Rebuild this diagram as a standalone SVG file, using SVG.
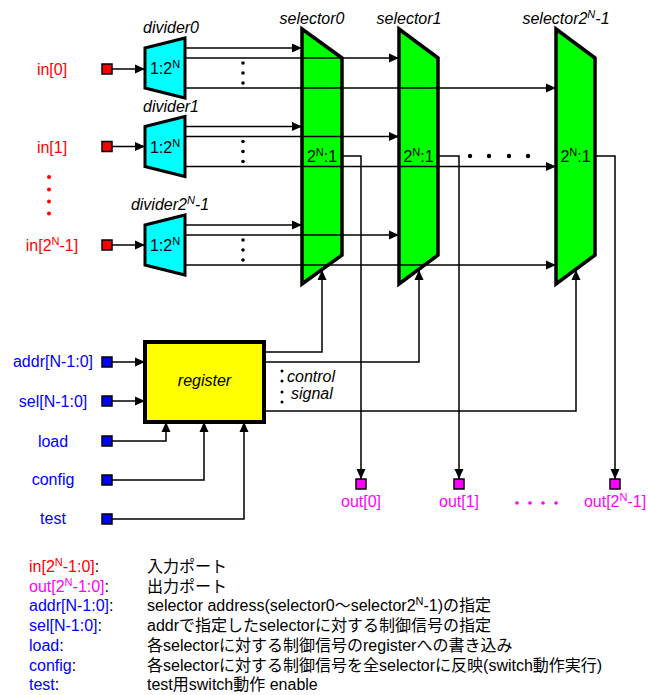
<svg xmlns="http://www.w3.org/2000/svg" width="648" height="695" viewBox="0 0 648 695">
<style>
text{font-family:"Liberation Sans",Arial,"Noto Sans CJK JP",sans-serif;font-size:16px;fill:#000}
.it{font-style:italic}
.mid{text-anchor:middle}
.red{fill:#ff0000}
.mag{fill:#ff00ff}
.blu{fill:#0000ff}
.sup{font-size:11px}
.div{fill:#00ffff;stroke:#000;stroke-width:3;stroke-linejoin:miter}
.sel{fill:#00ff00;stroke:#000;stroke-width:3.5;stroke-linejoin:miter}
.reg{fill:#ffff00;stroke:#000;stroke-width:4}
.pin{stroke:#000;stroke-width:1.5}
.w{fill:none;stroke:#000;stroke-width:1.5}
.wa{fill:none;stroke:#000;stroke-width:1.5;marker-end:url(#ah)}
</style>
<defs>
<marker id="ah" markerUnits="userSpaceOnUse" markerWidth="10" markerHeight="10" viewBox="0 0 10 10" refX="10" refY="5" orient="auto">
<path d="M0,0.5 L10,5 L0,9.5 Z" fill="#000"/>
</marker>
</defs>
<rect width="648" height="695" fill="#fff"/>

<!-- input labels -->
<g id="in0"><text class="red mid" x="52" y="75">in[0]</text><rect class="pin" x="102" y="64" width="10" height="10" fill="#ff0000"/></g>
<g id="in1"><text class="red mid" x="52" y="153">in[1]</text><rect class="pin" x="102" y="141.5" width="10" height="10" fill="#ff0000"/></g>
<g id="in-dots" fill="#ff0000"><circle cx="49" cy="177" r="2"/><circle cx="49" cy="189.5" r="2"/><circle cx="49" cy="201.5" r="2"/><circle cx="49" cy="213.5" r="2"/></g>
<g id="inN"><text class="red mid" x="52" y="251">in[2<tspan class="sup" dy="-6">N</tspan><tspan dy="6">-1]</tspan></text><rect class="pin" x="102" y="240" width="10" height="10" fill="#ff0000"/></g>

<!-- dividers -->
<g id="divider0"><text class="it mid" x="171" y="33">divider0</text><polygon class="div" points="145,48 185,38 185,98 145,88"/><text class="mid" x="165" y="74">1:2<tspan class="sup" dy="-6">N</tspan></text></g>
<g id="divider1"><text class="it mid" x="171" y="112">divider1</text><polygon class="div" points="145,126.5 185,116.5 185,176.5 145,166.5"/><text class="mid" x="165" y="152.5">1:2<tspan class="sup" dy="-6">N</tspan></text></g>
<g id="dividerN"><text class="it mid" x="170" y="210">divider2<tspan class="sup" dy="-6">N</tspan><tspan dy="6">-1</tspan></text><polygon class="div" points="145,225 185,215 185,275 145,265"/><text class="mid" x="165" y="251">1:2<tspan class="sup" dy="-6">N</tspan></text></g>

<!-- selectors -->
<g id="selector0"><text class="it mid" x="312" y="24">selector0</text><polygon class="sel" points="302,29 342,58 342,255 302,284"/><text class="mid" x="322" y="162">2<tspan class="sup" dy="-6">N</tspan><tspan dy="6">:1</tspan></text></g>
<g id="selector1"><text class="it mid" x="409" y="24">selector1</text><polygon class="sel" points="399,29 438,58 438,255 399,284"/><text class="mid" x="418.5" y="162">2<tspan class="sup" dy="-6">N</tspan><tspan dy="6">:1</tspan></text></g>
<g id="selectorN"><text class="it mid" x="566" y="24">selector2<tspan class="sup" dy="-6">N</tspan><tspan dy="6">-1</tspan></text><polygon class="sel" points="556,29 595,58 595,255 556,284"/><text class="mid" x="575.5" y="162">2<tspan class="sup" dy="-6">N</tspan><tspan dy="6">:1</tspan></text></g>
<g id="sel-dots"><circle cx="470" cy="156" r="2.2"/><circle cx="489" cy="156" r="2.2"/><circle cx="509" cy="156" r="2.2"/><circle cx="528" cy="156" r="2.2"/></g>

<!-- register -->
<g id="register"><rect class="reg" x="145" y="342" width="119" height="80"/><text class="it mid" x="204.5" y="386">register</text></g>

<!-- control inputs -->
<g id="addr"><text class="blu mid" x="53" y="367">addr[N-1:0]</text><rect class="pin" x="102" y="357" width="10" height="10" fill="#0000ff"/></g>
<g id="sel"><text class="blu mid" x="53" y="407">sel[N-1:0]</text><rect class="pin" x="102" y="396" width="10" height="10" fill="#0000ff"/></g>
<g id="load"><text class="blu mid" x="53" y="447">load</text><rect class="pin" x="102" y="436" width="10" height="10" fill="#0000ff"/></g>
<g id="config"><text class="blu mid" x="53" y="485">config</text><rect class="pin" x="102" y="475" width="10" height="10" fill="#0000ff"/></g>
<g id="test"><text class="blu mid" x="53" y="524">test</text><rect class="pin" x="102" y="514" width="10" height="10" fill="#0000ff"/></g>

<!-- outputs -->
<g id="out0"><rect class="pin" x="356" y="479" width="10" height="10" fill="#ff00ff"/><text class="mag mid" x="361" y="507">out[0]</text></g>
<g id="out1"><rect class="pin" x="454" y="479" width="10" height="10" fill="#ff00ff"/><text class="mag mid" x="459" y="507">out[1]</text></g>
<g id="out-dots" fill="#ff00ff"><circle cx="517" cy="503" r="1.8"/><circle cx="530" cy="503" r="1.8"/><circle cx="543" cy="503" r="1.8"/><circle cx="556" cy="503" r="1.8"/></g>
<g id="outN"><rect class="pin" x="610" y="479" width="10" height="10" fill="#ff00ff"/><text class="mag mid" x="615" y="507">out[2<tspan class="sup" dy="-6">N</tspan><tspan dy="6">-1]</tspan></text></g>

<!-- connectors -->
<g id="connectors">
<path class="wa" d="M112,69 H145"/>
<path class="wa" d="M112,146.5 H145"/>
<path class="wa" d="M112,245 H145"/>
<path class="wa" d="M185,48 H302"/>
<path class="wa" d="M185,58 H399"/>
<path class="wa" d="M185,88 H556"/>
<path class="wa" d="M185,126.5 H302"/>
<path class="wa" d="M185,136.5 H399"/>
<path class="wa" d="M185,166.5 H556"/>
<path class="wa" d="M185,225 H302"/>
<path class="wa" d="M185,235 H399"/>
<path class="wa" d="M185,265 H556"/>
<path class="wa" d="M112,362 H145"/>
<path class="wa" d="M112,401 H145"/>
<path class="wa" d="M112,441 H166 V422"/>
<path class="wa" d="M112,480 H204 V422"/>
<path class="wa" d="M112,519 H244 V422"/>
<path class="wa" d="M264,352 H322 V270"/>
<path class="wa" d="M264,362 H419 V270"/>
<path class="wa" d="M264,411 H576 V270"/>
<path class="wa" d="M342,156 H361 V479"/>
<path class="wa" d="M438,156 H459 V479"/>
<path class="wa" d="M595,156 H615 V479"/>
</g>
<g id="div-dots">
<circle cx="243" cy="63" r="1.8"/><circle cx="243" cy="73" r="1.8"/><circle cx="243" cy="83" r="1.8"/>
<circle cx="243" cy="141.5" r="1.8"/><circle cx="243" cy="151.5" r="1.8"/><circle cx="243" cy="161.5" r="1.8"/>
<circle cx="243" cy="240" r="1.8"/><circle cx="243" cy="250" r="1.8"/><circle cx="243" cy="260" r="1.8"/>
</g>
<g id="ctrl-label">
<circle cx="282" cy="371" r="1.5"/><circle cx="282" cy="381" r="1.5"/><circle cx="282" cy="392" r="1.5"/><circle cx="282" cy="402" r="1.5"/>
<text class="it" x="287" y="382">control</text>
<text class="it" x="291" y="399">signal</text>
</g>

<!-- legend -->
<g id="legend">
<text x="29" y="572"><tspan class="red">in[2<tspan class="sup" dy="-6">N</tspan><tspan dy="6">-1:0]</tspan></tspan>:</text>
<text x="147" y="572">入力ポート</text>
<text x="29" y="592"><tspan class="mag">out[2<tspan class="sup" dy="-6">N</tspan><tspan dy="6">-1:0]</tspan></tspan>:</text>
<text x="147" y="592">出力ポート</text>
<text x="29" y="611"><tspan class="blu">addr[N-1:0]</tspan>:</text>
<text x="147" y="611">selector address(selector0～selector2<tspan class="sup" dy="-6">N</tspan><tspan dy="6">-1)の指定</tspan></text>
<text x="29" y="631"><tspan class="blu">sel[N-1:0]</tspan>:</text>
<text x="147" y="631">addrで指定したselectorに対する制御信号の指定</text>
<text x="29" y="651"><tspan class="blu">load</tspan>:</text>
<text x="147" y="651">各selectorに対する制御信号のregisterへの書き込み</text>
<text x="29" y="671"><tspan class="blu">config</tspan>:</text>
<text x="147" y="671">各selectorに対する制御信号を全selectorに反映(switch動作実行)</text>
<text x="29" y="690"><tspan class="blu">test</tspan>:</text>
<text x="147" y="690">test用switch動作 enable</text>
</g>
</svg>
